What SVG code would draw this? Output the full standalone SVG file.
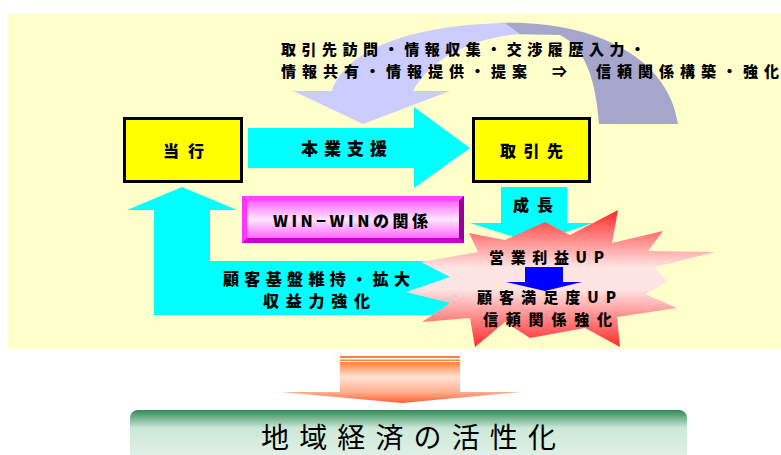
<svg xmlns="http://www.w3.org/2000/svg" width="781" height="455" viewBox="0 0 781 455">
<defs>
<linearGradient id="starG" x1="0" y1="210" x2="0" y2="347" gradientUnits="userSpaceOnUse">
<stop offset="0" stop-color="#FF2A2A"/>
<stop offset="0.42" stop-color="#FFE4E4"/>
<stop offset="0.58" stop-color="#FFE4E4"/>
<stop offset="1" stop-color="#FF2A2A"/>
</linearGradient>
<linearGradient id="winG" x1="0" y1="0" x2="0" y2="1">
<stop offset="0" stop-color="#FF66FF"/>
<stop offset="0.5" stop-color="#FFE6FF"/>
<stop offset="1" stop-color="#FF66FF"/>
</linearGradient>
<linearGradient id="orBody" x1="0" y1="362" x2="0" y2="392" gradientUnits="userSpaceOnUse">
<stop offset="0" stop-color="#FF8040"/>
<stop offset="0.5" stop-color="#FFE2D2"/>
<stop offset="1" stop-color="#FFB090"/>
</linearGradient>
<linearGradient id="orHead" x1="0" y1="392" x2="0" y2="403" gradientUnits="userSpaceOnUse">
<stop offset="0" stop-color="#FFB090"/>
<stop offset="1" stop-color="#FF6030"/>
</linearGradient>
<linearGradient id="greenG" x1="0" y1="410" x2="0" y2="470" gradientUnits="userSpaceOnUse">
<stop offset="0" stop-color="#2E8B57"/>
<stop offset="0.3" stop-color="#CDE8D8"/>
<stop offset="1" stop-color="#E8F5EE"/>
</linearGradient>
</defs>
<style>
.jb{font-family:"Noto Sans CJK JP","Liberation Sans",sans-serif;font-weight:900;fill:#000;}
.box{fill:#FFFF00;stroke:#000;stroke-width:3;}
.cyan{fill:#00FFFF;}
</style>
<rect x="8" y="14" width="773" height="335" fill="#FFFFCC"/>

<g id="connectors">
<path id="arc-back" d="M500,23 C590,20 668,55 678,124 L599,124 C596,82 586,48 560,35 L505,34 Z" fill="#A6A6CC"/>
<path id="arc-front" d="M293,91 L332,91 C345,50 410,25 505,23 L520,34 C470,38 430,60 413,91 L450,91 L363,124 Z" fill="#CCCCFF"/>
<polygon id="arrow-support" class="cyan" points="248,128 414,128 414,107 470,148 414,188 414,168 248,168"/>
<polygon id="arrow-growth" class="cyan" points="501,187 567,187 567,223 593,223 533,243 470,223 501,223"/>
<polygon id="arrow-return" class="cyan" points="154,315 154,210 127,210 182,187 237,210 210,210 210,261 490,261 490,315"/>
<g id="arrow-down">
<rect x="340" y="356" width="120" height="2" fill="#FF8040"/>
<rect x="340" y="359.5" width="120" height="1.5" fill="#FF8040"/>
<rect x="340" y="362" width="120" height="30" fill="url(#orBody)"/>
<polygon points="281,392 521,392 402,403" fill="url(#orHead)"/>
</g>
</g>

<g id="top-label">
<text class="jb" x="281" y="55" font-size="15" textLength="364" lengthAdjust="spacing">取引先訪問・情報収集・交渉履歴入力・</text>
<text class="jb" x="281" y="77" font-size="15" textLength="246" lengthAdjust="spacing">情報共有・情報提供・提案</text>
<text class="jb" x="552" y="77" font-size="15">⇒</text>
<text class="jb" x="596" y="77" font-size="15" textLength="183" lengthAdjust="spacing">信頼関係構築・強化</text>
</g>

<text class="jb" x="344" y="155" font-size="17" text-anchor="middle" textLength="86" lengthAdjust="spacing">本業支援</text>
<text class="jb" x="533" y="211" font-size="16" text-anchor="middle" textLength="40" lengthAdjust="spacing">成長</text>
<text class="jb" x="316.5" y="285" font-size="16" text-anchor="middle" textLength="187" lengthAdjust="spacing">顧客基盤維持・拡大</text>
<text class="jb" x="316.5" y="307" font-size="16" text-anchor="middle" textLength="107" lengthAdjust="spacing">収益力強化</text>

<g id="node-bank">
<rect class="box" x="124.5" y="118.5" width="117" height="63"/>
<text class="jb" x="183.5" y="157" font-size="16" text-anchor="middle" textLength="41" lengthAdjust="spacing">当行</text>
</g>

<g id="node-client">
<rect class="box" x="473.5" y="118.5" width="116" height="63"/>
<text class="jb" x="531.5" y="157" font-size="16" text-anchor="middle" textLength="63" lengthAdjust="spacing">取引先</text>
</g>

<g id="node-winwin">
<rect x="242" y="196" width="222" height="47" fill="#CC00CC"/>
<polygon points="242,196 464,196 459,201 247,201" fill="#FF44FF"/>
<polygon points="242,196 247,201 247,238 242,243" fill="#FF33FF"/>
<polygon points="464,196 464,243 459,238 459,201" fill="#990099"/>
<rect x="247" y="201" width="212" height="37" fill="url(#winG)"/>
<text class="jb" x="350.5" y="227" font-size="16" text-anchor="middle" textLength="155" lengthAdjust="spacing">WIN−WINの関係</text>
</g>

<g id="node-star">
<polygon fill="url(#starG)" points="618,210 612,243 663,231 648,251 715,252 655,267 667,282 645,294 677,308 617,317 620,347 585,328 530,338 505,322 475,347 470,318 422,322 450,303 406,292 450,277 421,262 478,252 469,233 505,240 545,222 570,235"/>
<text class="jb" x="546.5" y="263" font-size="15" text-anchor="middle" textLength="115" lengthAdjust="spacing">営業利益UP</text>
<polygon points="525,267 563,267 563,282 582,282 545,291 506,282 525,282" fill="#0000FF"/>
<text class="jb" x="546.5" y="303" font-size="15" text-anchor="middle" textLength="139" lengthAdjust="spacing">顧客満足度UP</text>
<text class="jb" x="547.5" y="325" font-size="15" text-anchor="middle" textLength="129" lengthAdjust="spacing">信頼関係強化</text>
</g>

<g id="node-goal">
<rect x="130" y="410" width="557" height="60" rx="8" fill="url(#greenG)"/>
<text x="408.5" y="448" font-size="28" text-anchor="middle" textLength="295" lengthAdjust="spacing" font-family="Noto Sans CJK JP, Liberation Sans, sans-serif" fill="#000">地域経済の活性化</text>
</g>
</svg>
